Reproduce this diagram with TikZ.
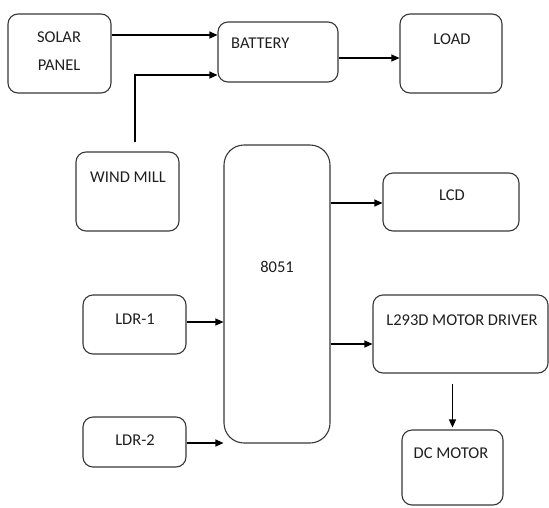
\documentclass[tikz,border=0pt]{standalone}
\usepackage{fontspec}
\setmainfont{Carlito}
\usetikzlibrary{arrows.meta}
\begin{document}
\begin{tikzpicture}[x=1pt,y=-1pt,
  box/.style={draw=black!78,line width=1.1pt,rounded corners=10pt,inner sep=0pt},
  lbl/.style={inner sep=0pt,text=black!88,font=\fontsize{16.5}{28}\selectfont,align=center},
  arr/.style={draw=black,line width=1.1pt,-{Triangle[length=8pt,width=7pt]}},
  ln/.style={draw=black,line width=1.1pt}]
\useasboundingbox[fill=white] (0,0) rectangle (549,507);
% boxes
\node[box,minimum width=103pt,minimum height=79pt] (solar) at (59.5,53.5) {};
\node[box,minimum width=120pt,minimum height=60pt] (bat) at (278,52) {};
\node[box,minimum width=102pt,minimum height=79pt] (load) at (451,53.5) {};
\node[box,minimum width=103pt,minimum height=79pt] (wind) at (127.5,191.5) {};
\node[box,rounded corners=20pt,minimum width=106pt,minimum height=298pt] (mcu) at (277,294) {};
\node[box,minimum width=136pt,minimum height=58pt] (lcd) at (451,202) {};
\node[box,minimum width=175pt,minimum height=78pt] (drv) at (460.5,334) {};
\node[box,minimum width=101pt,minimum height=75pt] (dc) at (452.5,467.5) {};
\node[box,minimum width=103pt,minimum height=59pt] (ldr1) at (134.5,324.5) {};
\node[box,minimum width=103pt,minimum height=50pt] (ldr2) at (134.5,442) {};
% labels
\node[lbl] (tsolar) at (59,51) {SOLAR\\PANEL};
\node[lbl,anchor=west] (tbat) at (231,43) {BATTERY};
\node[lbl] (tload) at (452,39) {LOAD};
\node[lbl] (twind) at (128,177) {WIND MILL};
\node[lbl] (tmcu) at (277,267) {8051};
\node[lbl] (tlcd) at (452,195) {LCD};
\node[lbl] (tdrv) at (462,320) {L293D MOTOR DRIVER};
\node[lbl] (tdc) at (451,453) {DC MOTOR};
\node[lbl] (tldr1) at (135,319) {LDR-1};
\node[lbl] (tldr2) at (135,440) {LDR-2};
% connectors
\draw[arr] ([yshift=18.5pt]solar.east) -- ([yshift=18.5pt]solar.east -| bat.west);
\draw[arr] ([xshift=7.5pt,yshift=9pt]wind.north) |- ([yshift=-23pt]bat.west);
\draw[arr] ([yshift=-6pt]bat.east) -- ([yshift=-6pt]bat.east -| load.west);
\draw[arr] ([yshift=91pt]mcu.east) -- ([yshift=91pt]mcu.east -| lcd.west);
\draw[arr] ([yshift=-50pt]mcu.east) -- ([yshift=-50pt]mcu.east -| drv.west);
\draw[arr] ([yshift=2.5pt]ldr1.east) -- ([yshift=2.5pt]ldr1.east -| mcu.west);
\draw[arr] ([yshift=-1pt]ldr2.east) -- ([yshift=-1pt]ldr2.east -| mcu.west);
\draw[arr] ([yshift=-10pt]drv.south -| dc.north) -- ([yshift=2pt]dc.north);
\end{tikzpicture}
\end{document}
